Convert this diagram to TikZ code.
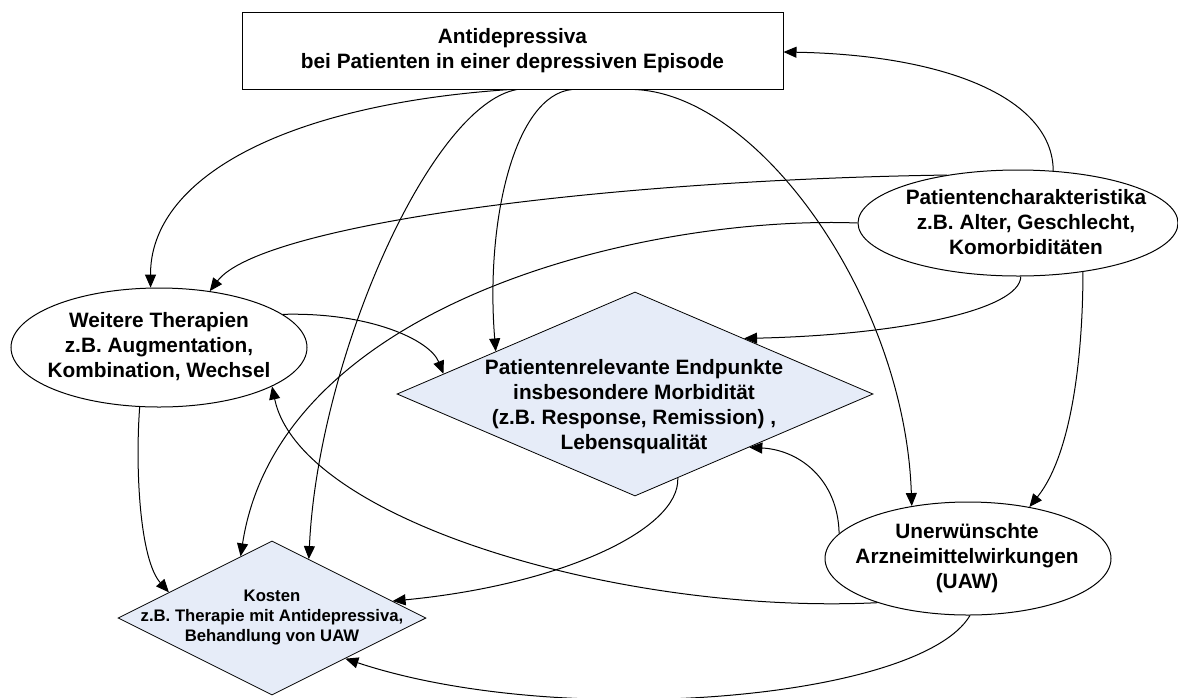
\documentclass[tikz,border=0pt]{standalone}
\usepackage{fontspec}
\setmainfont{Liberation Sans}
\usetikzlibrary{shapes.geometric,arrows.meta}
\definecolor{dfill}{RGB}{230,236,248}
\begin{document}
\begin{tikzpicture}[x=1pt,y=-1pt,
  conn/.style={line width=1pt, -{Triangle[length=13pt,width=11pt]}},
  ell/.style={ellipse, draw, line width=1pt, inner sep=0pt},
  dia/.style={diamond, draw, line width=0.8pt, fill=dfill, inner sep=0pt},
  big/.style={align=center, inner sep=0pt, font=\fontsize{20.8}{25}\selectfont\bfseries},
  small/.style={align=center, inner sep=0pt, font=\fontsize{16.7}{20}\selectfont\bfseries}]
\useasboundingbox (0,0) rectangle (1178,697);
% shapes
\node[draw, line width=1pt, minimum width=541pt, minimum height=77pt, inner sep=0pt] (box) at (512.5,50.5) {};
\node[big] (boxt) at (512.5,50.5) {Antidepressiva\\bei Patienten in einer depressiven Episode};
\node[ell, minimum width=320pt, minimum height=106pt] (pc) at (1018,223) {};
\node[big] (pct) at (1026,222) {Patientencharakteristika\\z.B. Alter, Geschlecht,\\Komorbiditäten};
\node[ell, minimum width=296pt, minimum height=119pt] (wt) at (159,347.5) {};
\node[big] (wtt) at (159,347) {Weitere Therapien\\z.B. Augmentation,\\Kombination, Wechsel};
\node[dia, minimum width=476pt, minimum height=204pt] (pr) at (635,394) {};
\node[big] (prt) at (634,406.5) {Patientenrelevante Endpunkte\\insbesondere Morbidität\\(z.B. Response, Remission) ,\\Lebensqualität};
\node[ell, minimum width=286pt, minimum height=113pt] (ua) at (968,558.5) {};
\node[big] (uat) at (967,558) {Unerwünschte\\Arzneimittelwirkungen\\(UAW)};
\node[dia, minimum width=308pt, minimum height=154pt] (ko) at (272,618) {};
\node[small] (kot) at (272,617.5) {Kosten\\z.B. Therapie mit Antidepressiva,\\Behandlung von UAW};
% connectors
\draw[conn] ([xshift=-2.5pt]box.south) .. controls (280,105) and (150,180) .. (wt.98.5);
\draw[conn] ([xshift=4.5pt]box.south) .. controls (430,105) and (318,360) .. (ko.58);
\draw[conn] ([xshift=59.5pt]box.south) .. controls (515,95) and (485,220) .. (pr.163);
\draw[conn] ([xshift=122.5pt]box.south) .. controls (760,95) and (905,300) .. (ua.137.7);
\draw[conn] (pc.56.6) .. controls (1053,100) and (950,55) .. ([yshift=-1.5pt]box.east);
\draw[conn] (pc.146.7) .. controls (600,180) and (260,225) .. (wt.48.4);
\draw[conn] (pc.180) .. controls (650,215) and (280,300) .. (ko.117.6);
\draw[conn] (pc.273.2) .. controls (1020,310) and (900,335) .. (pr.27);
\draw[conn] (pc.323.3) .. controls (1083,340) and (1075,450) .. (ua.40.9);
\draw[conn] (wt.252.3) .. controls (135,470) and (140,560) .. (ko.166.1);
\draw[conn] (wt.15.2) .. controls (370,312) and (430,340) .. (pr.174.4);
\draw[conn] (pr.297.9) .. controls (680,530) and (560,585) .. (ko.8.3);
\draw[conn] (ua.169.3) .. controls (838,480) and (800,450) .. (pr.335.6);
\draw[conn] (ua.206.8) .. controls (620,615) and (300,520) .. (wt.341.2);
\draw[conn] (ua.272) .. controls (920,700) and (560,730) .. (ko.331.1);
\end{tikzpicture}
\end{document}
